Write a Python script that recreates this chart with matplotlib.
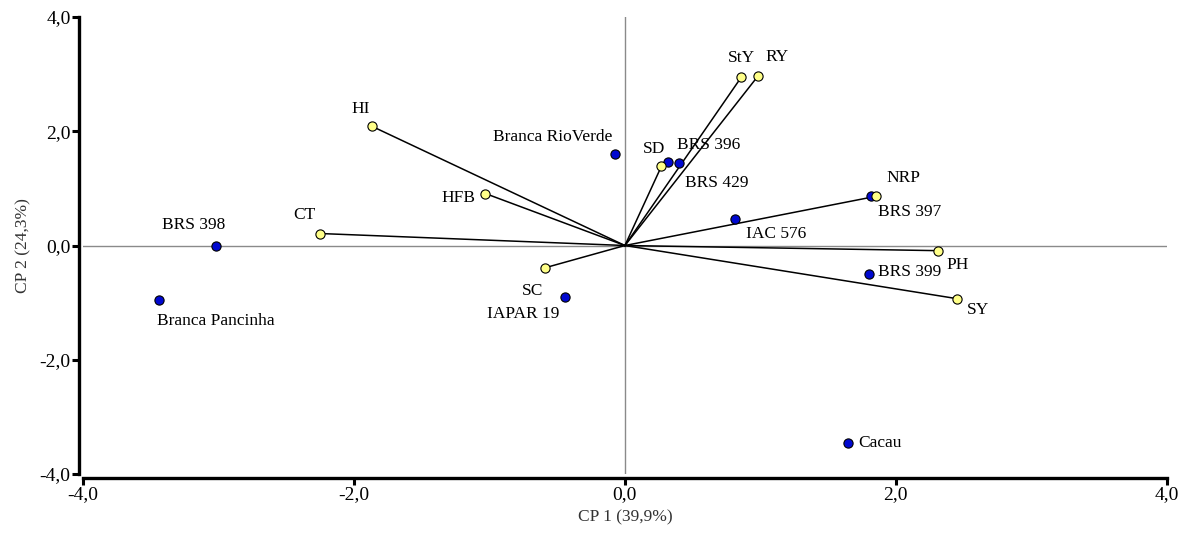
import matplotlib.pyplot as plt
from matplotlib.ticker import FuncFormatter

plt.rcParams['font.family'] = ['Liberation Serif', 'DejaVu Serif']

# variaveis (vetores)
var_nomes = ["HI", "CT", "HFB", "SC", "SD", "StY", "RY", "NRP", "PH", "SY"]
var_x = [-1.87, -2.25, -1.03, -0.59, 0.27, 0.86, 0.98, 1.85, 2.31, 2.45]
var_y = [2.09, 0.21, 0.91, -0.39, 1.39, 2.95, 2.96, 0.86, -0.09, -0.93]

# genotipos
gen_nomes = ["BRS 398", "Branca Pancinha", "Branca RioVerde", "BRS 396", "BRS 429",
             "IAC 576", "BRS 397", "BRS 399", "IAPAR 19", "Cacau"]
gen_x = [-3.02, -3.44, -0.07, 0.32, 0.40, 0.81, 1.82, 1.80, -0.44, 1.65]
gen_y = [0.00, -0.95, 1.61, 1.46, 1.44, 0.47, 0.86, -0.49, -0.91, -3.46]

ticks = [-4.0, -2.0, 0.0, 2.0, 4.0]

# deslocamento dos rotulos (pontos) e alinhamento
var_off = {"HI": (-8, 12, 'center'), "CT": (-11, 13, 'center'), "HFB": (-7, -3, 'right'),
           "SC": (-9, -17, 'center'), "SD": (-5, 12, 'center'), "StY": (0, 14, 'center'),
           "RY": (14, 14, 'center'), "NRP": (20, 13, 'center'), "PH": (14, -10, 'center'),
           "SY": (15, -8, 'center')}
gen_off = {"BRS 398": (-16, 15, 'center'), "Branca Pancinha": (-1, -15, 'left'),
           "Branca RioVerde": (-2, 12, 'right'), "BRS 396": (6, 12, 'left'),
           "BRS 429": (4, -14, 'left'), "IAC 576": (8, -11, 'left'),
           "BRS 397": (5, -11, 'left'), "BRS 399": (7, 1, 'left'),
           "IAPAR 19": (-30, -12, 'center'), "Cacau": (7, 0, 'left')}

fig = plt.figure(figsize=(11.91, 5.37), dpi=100)
ax = fig.add_axes([0.0697, 0.1173, 0.910, 0.851])

ax.axhline(0, color='#8a8a8a', linewidth=1, zorder=1)
ax.axvline(0, color='#8a8a8a', linewidth=1, zorder=1)

for x, y in zip(var_x, var_y):
    ax.plot([0, x], [0, y], color='black', linewidth=1.1, zorder=2)

ax.scatter(gen_x, gen_y, s=44, color='#0008d0', edgecolor='black', linewidth=0.8, zorder=3)
ax.scatter(var_x, var_y, s=44, color='#ffff88', edgecolor='black', linewidth=0.8, zorder=4)

for nome, x, y in zip(var_nomes, var_x, var_y):
    dx, dy, ha = var_off[nome]
    ax.annotate(nome, (x, y), xytext=(dx, dy), textcoords='offset points',
                ha=ha, va='center', fontsize=12.5, zorder=5)
for nome, x, y in zip(gen_nomes, gen_x, gen_y):
    dx, dy, ha = gen_off[nome]
    ax.annotate(nome, (x, y), xytext=(dx, dy), textcoords='offset points',
                ha=ha, va='center', fontsize=12.5, zorder=5)

ax.set_xlim(-4, 4)
ax.set_ylim(-4, 4)
ax.set_xticks(ticks)
ax.set_yticks(ticks)
fmt = FuncFormatter(lambda v, p: ("%.1f" % v).replace('.', ','))
ax.xaxis.set_major_formatter(fmt)
ax.yaxis.set_major_formatter(fmt)

for s in ['top', 'right']:
    ax.spines[s].set_visible(False)
for s in ['left', 'bottom']:
    ax.spines[s].set_linewidth(2.4)
    ax.spines[s].set_position(('outward', 3))
ax.tick_params(axis='both', length=5, width=2.2, labelsize=14, pad=1)

ax.set_xlabel("CP 1 (39,9%)", fontsize=12.5, color='#333333', labelpad=4)
ax.set_ylabel("CP 2 (24,3%)", fontsize=12.5, color='#333333', labelpad=6)

fig.savefig("out.png", dpi=100)
